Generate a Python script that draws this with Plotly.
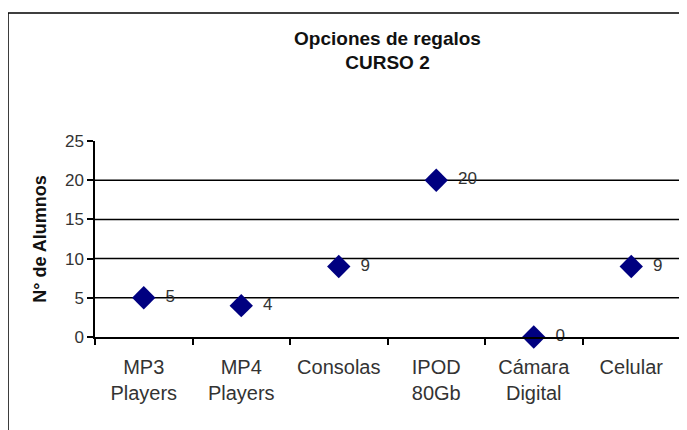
import plotly.graph_objects as go

categories = ["MP3<br>Players", "MP4<br>Players", "Consolas", "IPOD<br>80Gb", "Cámara<br>Digital", "Celular"]
values = [5, 4, 9, 20, 0, 9]
y_ticks = [0, 5, 10, 15, 20, 25]
grid_levels = [5, 10, 15, 20]

FONT = "Liberation Sans Narrow, Arial Narrow, Liberation Sans, Arial, sans-serif"

fig = go.Figure()
fig.add_trace(go.Scatter(
    x=categories, y=values, mode="markers+text",
    marker=dict(symbol="diamond", size=18, color="#000080", line=dict(width=0)),
    texttemplate="  %{y}", textposition="middle right",
    textfont=dict(family=FONT, size=17, color="#333333"),
    cliponaxis=False, showlegend=False,
))

shapes = [dict(type="line", xref="paper", x0=0, x1=1, yref="y", y0=g, y1=g,
               line=dict(color="black", width=1.5), layer="below") for g in grid_levels]
shapes.append(dict(type="rect", xref="paper", yref="paper", x0=-0.1487, x1=1.05,
                   y0=-0.55, y1=1.653, line=dict(color="black", width=1.5)))

fig.update_layout(
    width=687, height=430,
    margin=dict(l=87, r=15, t=133, b=101),
    paper_bgcolor="white", plot_bgcolor="white",
    font=dict(family=FONT, color="#222222"),
    title=dict(text="<b>Opciones de regalos</b><br><b>CURSO 2</b>", x=0.5, xref="paper", xanchor="center",
               y=0.915, yanchor="top", yref="container",
               font=dict(family=FONT, size=19, color="#111111")),
    shapes=shapes,
    xaxis=dict(type="category", showgrid=False, showline=True, linecolor="black", linewidth=1.5,
               ticks="outside", tickson="boundaries", ticklen=6, tickcolor="black", tickwidth=1.5,
               tickfont=dict(family=FONT, size=20, color="#333333"), zeroline=False,
               ticklabelstandoff=11, automargin=False,
               range=[-0.5, 5.5]),
    yaxis=dict(range=[0, 25], tickvals=y_ticks, showgrid=False, showline=True, linecolor="black",
               linewidth=1.5, ticks="outside", ticklen=6, tickcolor="black", tickwidth=1.5,
               tickfont=dict(family=FONT, size=17, color="#333333"), zeroline=False,
               automargin=False,
               title=dict(text="<b>N° de Alumnos</b>", standoff=14,
                          font=dict(family="Liberation Sans, Arial, sans-serif", size=18, color="#111111"))),
)

fig.write_html("out.html")
